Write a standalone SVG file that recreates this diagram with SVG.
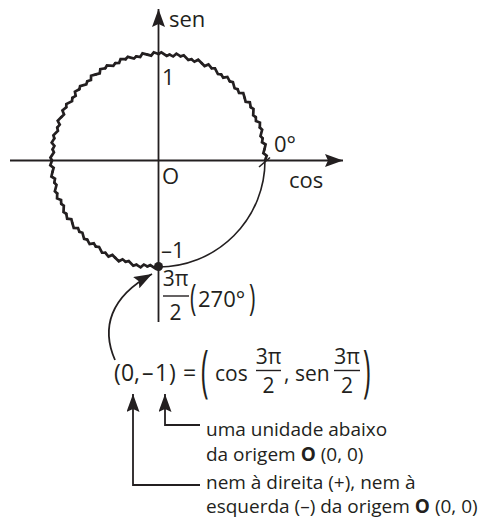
<svg xmlns="http://www.w3.org/2000/svg" xmlns:xlink="http://www.w3.org/1999/xlink" width="493" height="518" viewBox="0 0 493 518">
<style>
.t{font-family:"Open Sans","Liberation Sans",sans-serif;fill:#231f20;font-size:22px}
.e{font-size:23px}
.f{font-size:21px}
.n{font-size:19px}
.ax{stroke:#231f20;stroke-width:1.8;fill:none}
.thin{stroke:#231f20;stroke-width:1.6;fill:none}
.wv{stroke:#231f20;stroke-width:2.7;fill:none;stroke-linejoin:miter;stroke-linecap:round}
.bar{stroke:#231f20;stroke-width:1.4}
</style>
<defs>
<marker id="ah" viewBox="0 0 18 13" refX="18" refY="6.5" markerWidth="18" markerHeight="13" markerUnits="userSpaceOnUse" orient="auto">
<path d="M0,0 L18,6.5 L0,13 L3,6.5 z" fill="#231f20"/>
</marker>
<polyline id="wa" class="wv" points="0,-106.5 2.83,-108.063 8.23,-104.577 11.132,-105.917"/>
<polyline id="wb" class="wv" points="0,-106.5 3.668,-105.036 6.612,-108.098 11.132,-105.917"/>
<g id="w30">
<use href="#wa"/><use href="#wb" transform="rotate(6)"/><use href="#wa" transform="rotate(12)"/><use href="#wb" transform="rotate(18)"/><use href="#wb" transform="rotate(24)"/>
</g>
</defs>

<g id="axes">
<line class="ax" x1="158.5" y1="322" x2="158.5" y2="9" marker-end="url(#ah)"/>
<line class="ax" x1="10" y1="160.5" x2="343" y2="160.5" marker-end="url(#ah)"/>
</g>

<g id="circle">
<g transform="translate(158.5,160.5)">
<use href="#w30" transform="rotate(180)"/>
<use href="#w30" transform="rotate(210)"/>
<use href="#w30" transform="rotate(240)"/>
<use href="#w30" transform="rotate(270)"/>
<use href="#w30" transform="rotate(300)"/>
<use href="#w30" transform="rotate(330)"/>
<use href="#w30" transform="rotate(360)"/>
<use href="#w30" transform="rotate(390)"/>
<use href="#w30" transform="rotate(420)"/>
</g>
<path class="thin" d="M158.5,267 A106.5,106.5 0 0 0 265,160.5"/>
<line class="thin" x1="259" y1="167" x2="270" y2="157.5"/>
<circle cx="158.5" cy="266.5" r="4.5" fill="#231f20"/>
</g>

<g id="labels">
<text class="t" x="169" y="27">sen</text>
<text class="t" x="162" y="85">1</text>
<text class="t" x="274" y="152">0°</text>
<text class="t" x="162" y="184">O</text>
<text class="t" x="289" y="188">cos</text>
<text class="t" x="161" y="258">–1</text>
</g>

<g id="point270">
<text class="t f" x="175.5" y="286" text-anchor="middle">3π</text>
<line class="bar" x1="163" y1="296" x2="189" y2="296"/>
<text class="t f" x="175.5" y="320" text-anchor="middle">2</text>
<text class="t" transform="translate(190,310) scale(0.9,1.5)" style="font-size:24px">(</text>
<text class="t" x="198" y="307">270°</text>
<text class="t" transform="translate(249,310) scale(0.9,1.5)" style="font-size:24px">)</text>
</g>

<g id="equation">
<text class="t e" y="381"><tspan x="114">(</tspan><tspan x="121">0</tspan><tspan x="134">,</tspan><tspan x="142">–</tspan><tspan x="155">1</tspan><tspan x="169">)</tspan><tspan x="183">=</tspan></text>
<text class="t" transform="translate(201,391) scale(0.8,1.75)" style="font-size:32px">(</text>
<text class="t f" x="215" y="381">cos</text>
<text class="t f" x="268.5" y="364" text-anchor="middle">3π</text>
<line class="bar" x1="256" y1="370.5" x2="281" y2="370.5"/>
<text class="t f" x="268.5" y="393" text-anchor="middle">2</text>
<text class="t f" x="284" y="381">,</text>
<text class="t f" x="295" y="381">sen</text>
<text class="t f" x="347" y="364" text-anchor="middle">3π</text>
<line class="bar" x1="334" y1="370.5" x2="360" y2="370.5"/>
<text class="t f" x="347" y="393" text-anchor="middle">2</text>
<text class="t" transform="translate(363,391) scale(0.8,1.75)" style="font-size:32px">)</text>
</g>

<g id="notes">
<text class="t n" x="206" y="436">uma unidade abaixo</text>
<text class="t n" x="206" y="461">da origem <tspan font-weight="bold">O</tspan> (0, 0)</text>
<text class="t n" x="206" y="489">nem à direita (+), nem à</text>
<text class="t n" x="206" y="513">esquerda (–) da origem <tspan font-weight="bold">O</tspan> (0, 0)</text>
</g>

<g id="connectors">
<path class="ax" d="M115,360 C101,328 110,297 152,274" marker-end="url(#ah)"/>
<polyline class="ax" points="200,425 165,425 165,394" marker-end="url(#ah)"/>
<polyline class="ax" points="200,485 133,485 133,394" marker-end="url(#ah)"/>
</g>
</svg>
